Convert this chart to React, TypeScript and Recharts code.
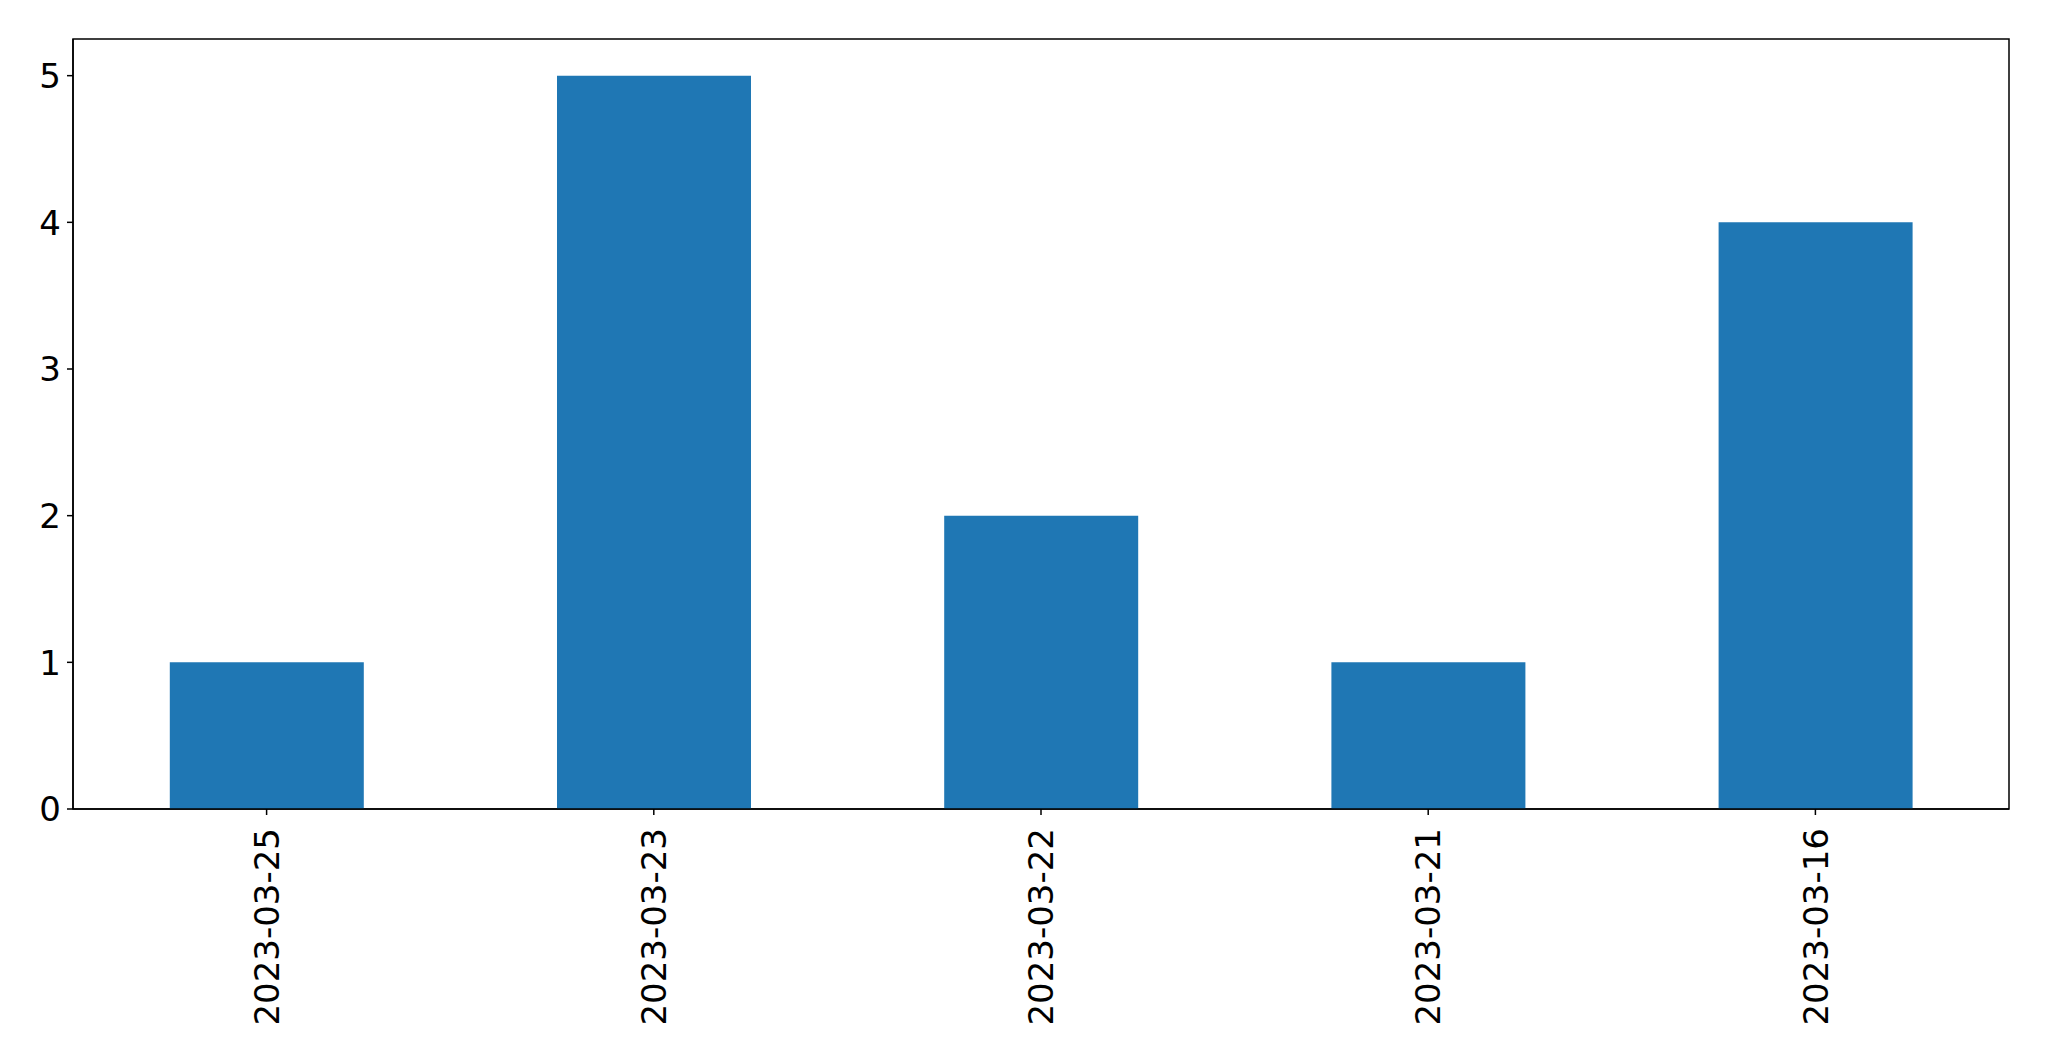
import { Bar, BarChart, ReferenceArea, XAxis, YAxis } from 'recharts'

const dates = ['2023-03-25', '2023-03-23', '2023-03-22', '2023-03-21', '2023-03-16']
const counts = [1, 5, 2, 1, 4]
const yTicks = [0, 1, 2, 3, 4, 5]
const yMax = 5.25

const data = dates.map((d, i) => ({ date: d, count: counts[i] }))

const font = 'DejaVu Sans'
const fontSize = 34

function DateTick(props: any) {
  const { x, y, payload } = props
  return (
    <text
      transform={`translate(${x},${y + 11}) rotate(-90)`}
      textAnchor='end'
      dy='0.36em'
      fontSize={fontSize}
      fontFamily={font}
      fill='#000'
    >
      {payload.value}
    </text>
  )
}

function CountTick(props: any) {
  const { x, y, payload } = props
  return (
    <text
      x={x}
      y={y}
      textAnchor='end'
      dy='0.36em'
      fontSize={fontSize}
      fontFamily={font}
      fill='#000'
    >
      {payload.value}
    </text>
  )
}

export default function App() {
  return (
    <div style={{ position: 'absolute', left: 0, top: 0, background: '#fff' }}>
      <BarChart
        width={2049}
        height={1061}
        data={data}
        margin={{ top: 39, right: 40, bottom: 0, left: 0 }}
        barCategoryGap='25%'
      >
        <XAxis
          dataKey='date'
          height={252}
          tickSize={6}
          stroke='#000'
          tickLine={{ stroke: '#000', strokeWidth: 1.5 }}
          axisLine={{ stroke: '#000', strokeWidth: 1.5 }}
          tick={<DateTick />}
          interval={0}
        />
        <YAxis
          width={73}
          domain={[0, yMax]}
          ticks={yTicks}
          tickSize={6}
          tickMargin={6}
          allowDataOverflow
          stroke='#000'
          tickLine={{ stroke: '#000', strokeWidth: 1.5 }}
          axisLine={{ stroke: '#000', strokeWidth: 1.5 }}
          tick={<CountTick />}
        />
        <Bar dataKey='count' fill='#1f77b4' isAnimationActive={false} />
        <ReferenceArea
          x1={dates[0]}
          x2={dates[dates.length - 1]}
          y1={0}
          y2={yMax}
          fill='none'
          stroke='#000'
          strokeWidth={1.5}
          ifOverflow='visible'
        />
      </BarChart>
    </div>
  )
}
